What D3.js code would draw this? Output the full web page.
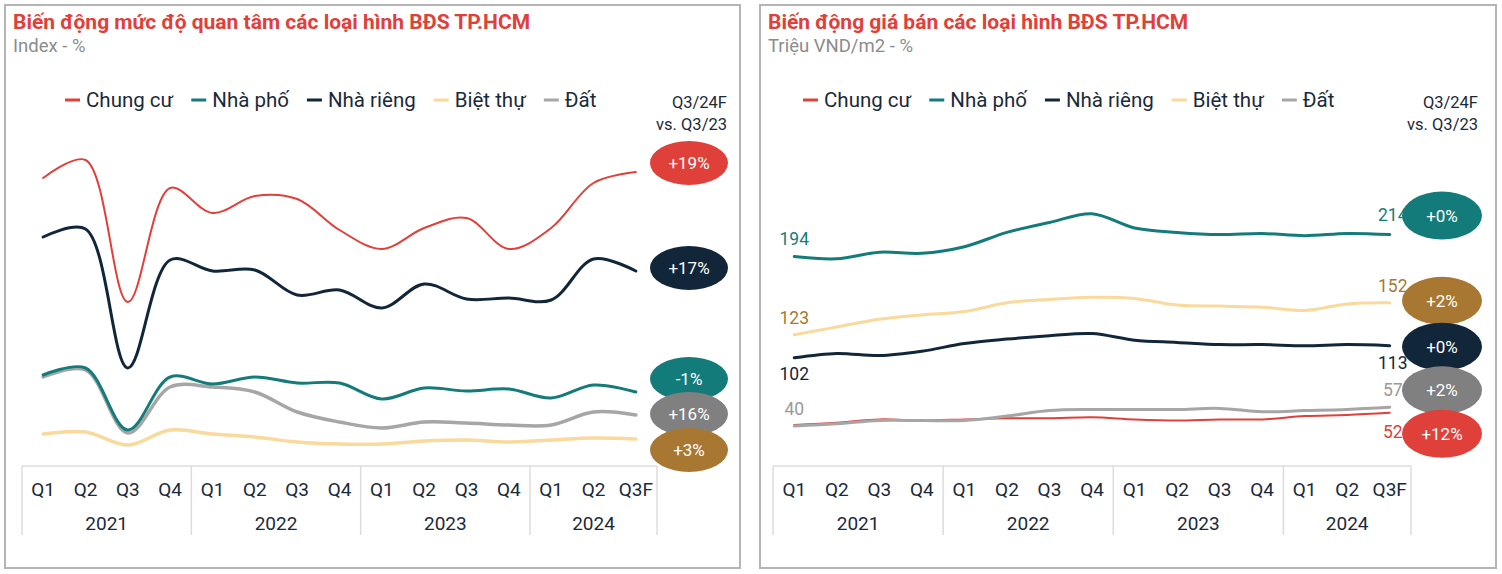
<!DOCTYPE html>
<html>
<head>
<meta charset="utf-8">
<script src="https://cdn.jsdelivr.net/npm/d3@7"></script>
<style>
  body { margin: 0; background: #fff; }
  svg text { font-family: Roboto, "Noto Sans", sans-serif; }
</style>
</head>
<body>
<div id="wrapper"></div>
<script>
// x axis
const quarters = ["Q1","Q2","Q3","Q4","Q1","Q2","Q3","Q4","Q1","Q2","Q3","Q4","Q1","Q2","Q3F"];
const years = ["2021","2022","2023","2024"];
const quartersPerYear = [4, 4, 4, 3];

// series (same order in both charts)
const seriesNames = ["Chung cư", "Nhà phố", "Nhà riêng", "Biệt thự", "Đất"];
const seriesColors = ["#e0403a", "#137c7a", "#12263a", "#f9d99c", "#a6a6a6"];
const badgeColors = ["#e0403a", "#137c7a", "#12263a", "#a87833", "#808080"];
const labelColors = ["#e0403a", "#137c7a", "#12263a", "#a87833", "#999999"];

// chart 1: interest index
const interestChungCu = [292, 310, 168, 282, 257, 274, 271, 240, 221, 242, 252, 221, 242, 287, 298];
const interestNhaPho  = [95, 102, 40, 93, 86, 93, 87, 87, 71, 82, 79, 81, 72, 85, 78];
const interestNhaRieng = [233, 241, 102, 210, 199, 200, 175, 180, 162, 186, 171, 172, 170, 211, 199];
const interestBietThu = [36, 38, 25, 40, 36, 33, 28, 26, 26, 29, 30, 28, 30, 32, 31];
const interestDat     = [93, 100, 37, 83, 83, 78, 58, 48, 42, 48, 47, 45, 45, 58, 55];
const interestChange  = ["+19%", "-1%", "+17%", "+3%", "+16%"];

// chart 2: price, million VND/m2
const priceChungCu = [41, 43, 46, 45, 46, 47, 47, 48, 46, 45, 46, 46, 49, 50, 52];
const priceNhaPho  = [194, 192, 198, 197, 203, 216, 225, 233, 220, 216, 214, 215, 213, 215, 214];
const priceNhaRieng = [102, 106, 104, 108, 115, 119, 122, 124, 118, 116, 114, 114, 113, 114, 113];
const priceBietThu = [123, 130, 137, 141, 144, 152, 155, 157, 156, 150, 149, 148, 145, 151, 152];
const priceDat     = [40, 42, 45, 45, 45, 49, 54, 55, 55, 55, 56, 53, 54, 55, 57];
const priceChange  = ["+12%", "+0%", "+0%", "+2%", "+2%"];

const svg = d3.select("#wrapper").append("svg")
  .attr("width", 1502)
  .attr("height", 574);

function drawChart(cfg) {
  const g = svg.append("g").attr("transform", `translate(${cfg.left},0)`);

  g.append("rect")
    .attr("x", 0).attr("y", 5)
    .attr("width", cfg.width).attr("height", 563)
    .attr("fill", "none")
    .attr("stroke", "#b5b5b5")
    .attr("stroke-width", 2);

  g.append("text")
    .attr("x", 8).attr("y", 29)
    .attr("fill", "#e0403a")
    .attr("font-size", 21)
    .attr("font-weight", 700)
    .text(cfg.title);
  g.append("text")
    .attr("x", 8).attr("y", 52)
    .attr("fill", "#8c8c8c")
    .attr("font-size", 18.5)
    .text(cfg.subtitle);

  // legend
  let lx = cfg.legendX;
  seriesNames.forEach((name, i) => {
    g.append("line")
      .attr("x1", lx).attr("x2", lx + 15)
      .attr("y1", 100).attr("y2", 100)
      .attr("stroke", seriesColors[i])
      .attr("stroke-width", 3);
    const t = g.append("text")
      .attr("x", lx + 21).attr("y", 107)
      .attr("fill", "#1b2a3a")
      .attr("font-size", 20.5)
      .text(name);
    lx += 21 + t.node().getComputedTextLength() + 18;
  });
  g.append("text")
    .attr("x", cfg.noteX).attr("y", 108)
    .attr("text-anchor", "end")
    .attr("fill", "#1b2a3a")
    .attr("font-size", 16.5)
    .text("Q3/24F");
  g.append("text")
    .attr("x", cfg.noteX).attr("y", 130)
    .attr("text-anchor", "end")
    .attr("fill", "#1b2a3a")
    .attr("font-size", 16.5)
    .text("vs. Q3/23");

  const xScale = d3.scaleBand()
    .domain(d3.range(quarters.length))
    .range(cfg.xRange);
  const xMid = i => xScale(i) + xScale.bandwidth() / 2;
  const yScale = d3.scaleLinear()
    .domain(cfg.yDomain)
    .range([470, cfg.yTop]);

  // axis: quarter labels, then year row and the light grid
  const axisY = 466;
  const xAxisGen = d3.axisBottom(xScale)
    .tickSize(0)
    .tickPadding(17)
    .tickFormat(i => quarters[i]);
  const axisG = g.append("g")
    .attr("transform", `translate(0,${axisY})`)
    .call(xAxisGen);
  axisG.select(".domain").remove();
  axisG.selectAll("text")
    .attr("font-size", 19)
    .attr("fill", "#1b2a3a");

  const gridColor = "#dcdcdc";
  g.append("line")
    .attr("x1", cfg.xRange[0]).attr("x2", cfg.xRange[1])
    .attr("y1", axisY).attr("y2", axisY)
    .attr("stroke", gridColor).attr("stroke-width", 1.5);
  let start = 0;
  const bounds = [cfg.xRange[0]];
  years.forEach((yr, k) => {
    const end = start + quartersPerYear[k];
    const x0 = xScale(start);
    const x1 = end < quarters.length ? xScale(end) : cfg.xRange[1];
    bounds.push(x1);
    g.append("text")
      .attr("x", (x0 + x1) / 2).attr("y", 530)
      .attr("text-anchor", "middle")
      .attr("fill", "#1b2a3a")
      .attr("font-size", 19)
      .text(yr);
    start = end;
  });
  g.selectAll(".sep")
    .data(bounds)
    .enter()
    .append("line")
    .attr("x1", d => d).attr("x2", d => d)
    .attr("y1", axisY).attr("y2", 535)
    .attr("stroke", gridColor).attr("stroke-width", 1.5);

  // lines
  const lineGen = d3.line()
    .x((d, i) => xMid(i))
    .y(d => yScale(d))
    .curve(d3.curveCatmullRom.alpha(0.5));
  cfg.drawOrder.forEach(i => {
    g.append("path")
      .attr("d", lineGen(cfg.series[i]))
      .attr("fill", "none")
      .attr("stroke", seriesColors[i])
      .attr("stroke-width", cfg.widths[i])
      .attr("stroke-linecap", "round");
  });

  // change badges, stacked top to bottom
  const last = quarters.length - 1;
  const badges = seriesNames.map((n, i) => ({
    i: i,
    y: yScale(cfg.series[i][last]) + cfg.badgeDy[i]
  })).sort((a, b) => a.y - b.y);
  badges.forEach(b => {
    g.append("ellipse")
      .attr("cx", cfg.badgeX).attr("cy", b.y)
      .attr("rx", cfg.badgeRx).attr("ry", cfg.badgeRy)
      .attr("fill", badgeColors[b.i]);
    g.append("text")
      .attr("x", cfg.badgeX).attr("y", b.y + 6)
      .attr("text-anchor", "middle")
      .attr("fill", "#fff")
      .attr("font-size", 17)
      .text(cfg.changes[b.i]);
  });

  // start / end value labels
  if (cfg.labels) {
    cfg.labels.forEach(l => {
      const s = cfg.series[l.s];
      const idx = l.end ? s.length - 1 : 0;
      g.append("text")
        .attr("x", xMid(idx) + (l.end ? 3 : 0)).attr("y", yScale(s[idx]) + l.dy)
        .attr("text-anchor", "middle")
        .attr("fill", labelColors[l.s])
        .attr("font-size", 17.5)
        .text(s[idx]);
    });
  }
}

drawChart({
  left: 5,
  width: 735,
  title: "Biến động mức độ quan tâm các loại hình BĐS TP.HCM",
  subtitle: "Index - %",
  legendX: 60,
  noteX: 722,
  xRange: [17, 652],
  yDomain: [0, 320],
  yTop: 150,
  series: [interestChungCu, interestNhaPho, interestNhaRieng, interestBietThu, interestDat],
  drawOrder: [3, 4, 1, 2, 0],
  widths: [2, 3, 3, 3.5, 3.5],
  changes: interestChange,
  badgeX: 684,
  badgeRx: 39,
  badgeRy: 22,
  badgeDy: [-9, -13, -3, 11, -1]
});

drawChart({
  left: 760,
  width: 736,
  title: "Biến động giá bán các loại hình BĐS TP.HCM",
  subtitle: "Triệu VND/m2 - %",
  legendX: 43,
  noteX: 718,
  xRange: [13, 651],
  yDomain: [0, 250],
  yTop: 195,
  series: [priceChungCu, priceNhaPho, priceNhaRieng, priceBietThu, priceDat],
  drawOrder: [0, 3, 2, 4, 1],
  widths: [2, 3, 3, 3, 3],
  changes: priceChange,
  badgeX: 682,
  badgeRx: 40,
  badgeRy: 24,
  badgeDy: [21, -19, 1, -2, -17],
  labels: [
    { s: 1, end: false, dy: -12 },
    { s: 1, end: true, dy: -14 },
    { s: 3, end: false, dy: -11 },
    { s: 3, end: true, dy: -11 },
    { s: 2, end: false, dy: 22 },
    { s: 2, end: true, dy: 23 },
    { s: 4, end: false, dy: -11 },
    { s: 4, end: true, dy: -11 },
    { s: 0, end: true, dy: 25 }
  ]
});
</script>
</body>
</html>
